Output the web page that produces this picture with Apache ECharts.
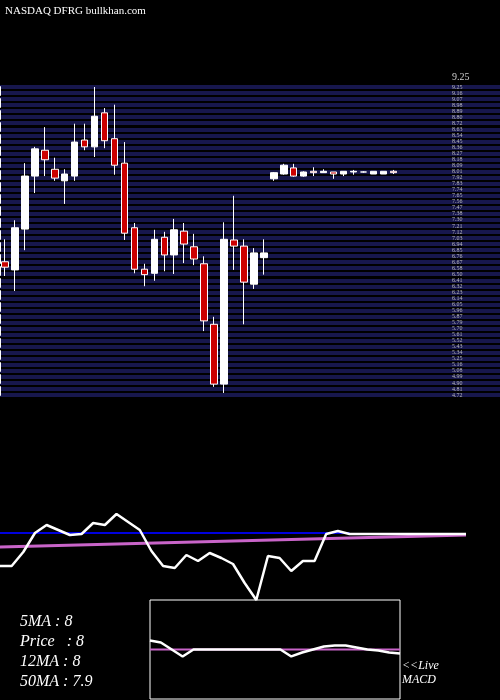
<!DOCTYPE html>
<html>
<head>
<meta charset="utf-8">
<script src="https://cdn.jsdelivr.net/npm/echarts@6/dist/echarts.min.js"></script>
<style>
  html, body { margin: 0; padding: 0; background: #000; }
  #chartdiv { width: 500px; height: 700px; }
</style>
</head>
<body>
<div id="chartdiv"></div>
<script>
// candles: [open, close, low, high]
const candles = [
  [6.68, 6.60, 6.47, 7.01], [6.56, 7.18, 6.25, 7.29], [7.16, 7.94, 6.85, 8.13], [7.94, 8.34, 7.69, 8.37],
  [8.32, 8.18, 7.94, 8.66], [8.04, 7.91, 7.87, 8.21], [7.87, 7.97, 7.53, 8.04], [7.94, 8.44, 7.87, 8.71],
  [8.47, 8.37, 8.32, 8.71], [8.37, 8.82, 8.22, 9.25], [8.87, 8.46, 8.35, 8.94], [8.49, 8.10, 7.96, 8.99],
  [8.13, 7.10, 7.00, 8.44], [7.18, 6.57, 6.51, 7.25], [6.57, 6.49, 6.32, 6.65], [6.51, 7.01, 6.40, 7.15],
  [7.04, 6.78, 6.54, 7.12], [6.78, 7.15, 6.50, 7.31], [7.13, 6.94, 6.66, 7.25], [6.90, 6.72, 6.63, 7.09],
  [6.65, 5.81, 5.66, 6.76], [5.76, 4.88, 4.84, 5.87], [4.88, 7.01, 4.75, 7.26], [7.00, 6.91, 6.56, 7.65],
  [6.91, 6.38, 5.76, 7.01], [6.35, 6.81, 6.28, 6.88], [6.74, 6.81, 6.49, 7.01], [7.90, 7.99, 7.87, 8.00],
  [7.97, 8.10, 7.96, 8.12], [8.06, 7.94, 7.93, 8.12], [7.94, 8.00, 7.93, 8.01], [8.01, 7.99, 7.94, 8.07],
  [7.99, 8.01, 7.99, 8.04], [8.00, 7.97, 7.90, 8.00], [7.97, 8.01, 7.94, 8.01], [8.00, 8.01, 7.96, 8.03],
  [8.00, 8.00, 7.99, 8.01], [7.97, 8.01, 7.97, 8.01], [7.97, 8.01, 7.97, 8.01], [8.01, 7.99, 7.97, 8.03]
];
const slotCount = 46;

// oscillator panel (0..100 scale)
const oscWhite = [34, 34, 48, 67, 75, 70, 65, 66, 77, 75, 86, 78, 70, 49, 34, 32, 45, 39, 47, 42,
  36, 17, 0, 44, 42, 29, 39, 39, 66, 69, 66, 66, 66, 66, 66, 66, 66, 66, 66, 66, 66];
const oscBlue = [67, 67, 67, 67, 67, 67, 67, 67, 67, 67, 67, 67, 67, 67, 67, 67, 67, 67, 67, 67,
  67, 67, 67, 67, 67, 67, 67, 67, 67, 67, 67];
const oscPink = [[0, 53], [40, 65]];

// MACD box
const macdWhite = [59, 57, 50, 43, 50, 50, 50, 50, 50, 50, 50, 50, 50, 43, 47, 50, 53, 54, 54, 52, 50, 49, 47, 46];
const macdSignal = 50;

const infoLines = ["5MA : 8", "Price   : 8", "12MA : 8", "50MA : 7.9"];

const serif = "Liberation Serif";
const chart = echarts.init(document.getElementById("chartdiv"));

const candleData = candles.map((c, i) => ({
  value: c,
  itemStyle: c[1] >= c[0]
    ? { color: "#fff", borderColor: "#fff" }
    : { color: "#cc0000", borderColor: "#fff", color0: "#cc0000" }
}));

chart.setOption({
  backgroundColor: "#000",
  animation: false,
  grid: [
    { left: 0, right: 0, top: 87, height: 308 },         // stripes
    { left: -2, width: 460, top: 87, height: 308 },      // candles
    { left: 0, width: 466, top: 500, height: 100 },      // oscillator
    { left: 150, width: 250, top: 600, height: 99, show: true, borderColor: "#fff", borderWidth: 1 }
  ],
  xAxis: [
    { gridIndex: 0, type: "value", show: false, min: 0, max: 1 },
    { gridIndex: 1, type: "category", data: [...Array(slotCount).keys()], show: false },
    { gridIndex: 2, type: "category", data: [...Array(41).keys()], show: false, boundaryGap: false },
    { gridIndex: 3, type: "category", data: [...Array(24).keys()], show: false, boundaryGap: false }
  ],
  yAxis: [
    {
      gridIndex: 0, type: "value", min: 0, max: 51, interval: 1,
      axisLine: { show: true, lineStyle: { color: "#fff", type: "dashed", width: 2 } },
      axisTick: { show: false }, axisLabel: { show: false },
      splitLine: { show: true, lineStyle: { color: "#17174d", width: 4 } }
    },
    {
      gridIndex: 1, type: "value", min: 4.72, max: 9.25, position: "right",
      interval: 0.0888,
      axisLine: { show: false }, axisTick: { show: false }, splitLine: { show: false },
      axisLabel: {
        show: true, color: "#bbb", fontSize: 6, margin: -6, fontFamily: serif,
        formatter: v => v.toFixed(2)
      }
    },
    { gridIndex: 2, type: "value", min: 0, max: 100, show: false },
    { gridIndex: 3, type: "value", min: 0, max: 100, show: false }
  ],
  series: [
    {
      type: "candlestick", xAxisIndex: 1, yAxisIndex: 1, barWidth: 7,
      data: candleData,
      itemStyle: { color: "#fff", color0: "#cc0000", borderColor: "#fff", borderColor0: "#fff", borderWidth: 1 }
    },
    { type: "line", xAxisIndex: 2, yAxisIndex: 2, data: oscBlue, symbol: "none", lineStyle: { color: "#0000dd", width: 2 } },
    { type: "line", xAxisIndex: 2, yAxisIndex: 2, data: oscPink, symbol: "none", lineStyle: { color: "#c864c8", width: 3 } },
    { type: "line", xAxisIndex: 2, yAxisIndex: 2, data: oscWhite, symbol: "none", lineStyle: { color: "#fff", width: 2.5 } },
    { type: "line", xAxisIndex: 3, yAxisIndex: 3, data: macdWhite.map(() => macdSignal), symbol: "none", lineStyle: { color: "#c864c8", width: 2 } },
    { type: "line", xAxisIndex: 3, yAxisIndex: 3, data: macdWhite, symbol: "none", lineStyle: { color: "#fff", width: 2.5 } }
  ],
  graphic: [
    { type: "text", left: 5, top: 6, style: { text: "NASDAQ DFRG bullkhan.com", fill: "#fff", font: "11px " + serif } },
    { type: "text", left: 452, top: 72, style: { text: "9.25", fill: "#ccc", font: "10px " + serif } },
    ...infoLines.map((t, i) => ({
      type: "text", left: 20, top: 614 + i * 20,
      style: { text: t, fill: "#fff", font: "italic 16px " + serif }
    })),
    { type: "text", left: 402, top: 660, style: { text: "<<Live", fill: "#fff", font: "italic 12px " + serif } },
    { type: "text", left: 402, top: 674, style: { text: "MACD", fill: "#fff", font: "italic 12px " + serif } }
  ]
});
</script>
</body>
</html>
